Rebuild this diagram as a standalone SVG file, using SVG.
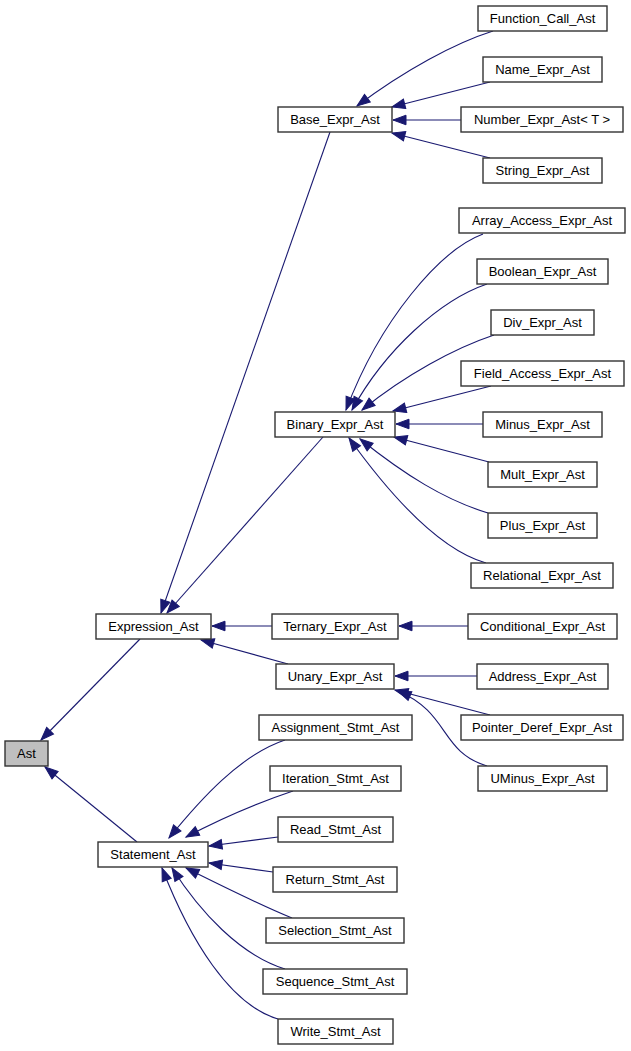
<svg xmlns="http://www.w3.org/2000/svg" width="631" height="1051" viewBox="0 0 631 1051">
<style>
.n rect{fill:#fff;stroke:#333;stroke-width:1.4}
.n text{font-family:"Liberation Sans",Arial,sans-serif;font-size:13px;text-anchor:middle;fill:#000}
#ast rect{fill:#bfbfbf}
.e path{fill:none;stroke:#191970;stroke-width:1.1;marker-end:url(#ah)}
</style>
<defs>
<marker id="ah" markerUnits="userSpaceOnUse" markerWidth="16" markerHeight="12" refX="14" refY="6" orient="auto">
<path d="M1,1.2 L14,6 L1,10.8 z" fill="#191970" stroke="#191970" stroke-width="1"/>
</marker>
</defs>
<rect width="631" height="1051" fill="#fff"/>
<g id="edges" class="e">
<path d="M140,639 L41,740"/>
<path d="M137,842 L45,767"/>
<path d="M330,132 L161,613"/>
<path d="M323,437 L167,613"/>
<path d="M272,626 L212,626"/>
<path d="M288,664 L201,640"/>
<path d="M493,31 C455,43 405,70 357,106"/>
<path d="M490,82 L392,107"/>
<path d="M461,120 L393,120"/>
<path d="M490,158 L392,133"/>
<path d="M483,234 C440,250 380,320 346,410"/>
<path d="M487,284 C440,300 385,350 352,410"/>
<path d="M494,335 C455,348 405,375 362,410"/>
<path d="M491,386 L393,411"/>
<path d="M483,424 L396,424"/>
<path d="M489,462 L394,437"/>
<path d="M488,513 C445,500 405,475 360,439"/>
<path d="M486,563 C440,550 390,495 349,438"/>
<path d="M468,626 L399,626"/>
<path d="M477,676 L395,676"/>
<path d="M490,715 L395,690"/>
<path d="M487,766 C440,752 450,713 398,691"/>
<path d="M285,740 C240,755 200,800 169,838"/>
<path d="M293,791 C260,802 222,818 186,837"/>
<path d="M278,837 L209,846"/>
<path d="M273,872 L209,863"/>
<path d="M292,918 C260,905 222,886 186,868"/>
<path d="M285,969 C240,955 200,912 172,868"/>
<path d="M278,1019 C230,1005 190,940 162,868"/>
</g>
<g id="ast" class="n"><rect x="5" y="741" width="43" height="25"/><text x="26.5" y="758">Ast</text></g>
<g id="expression_ast" class="n"><rect x="96" y="614" width="115" height="25"/><text x="153.5" y="631">Expression_Ast</text></g>
<g id="statement_ast" class="n"><rect x="98" y="842" width="110" height="25"/><text x="153" y="859">Statement_Ast</text></g>
<g id="base_expr_ast" class="n"><rect x="278" y="107" width="114" height="25"/><text x="335" y="124">Base_Expr_Ast</text></g>
<g id="function_call_ast" class="n"><rect x="478" y="6" width="129" height="25"/><text x="542.5" y="23">Function_Call_Ast</text></g>
<g id="name_expr_ast" class="n"><rect x="483" y="57" width="119" height="25"/><text x="542.5" y="74">Name_Expr_Ast</text></g>
<g id="number_expr_ast" class="n"><rect x="461" y="107" width="162" height="25"/><text x="542" y="124">Number_Expr_Ast&lt; T &gt;</text></g>
<g id="string_expr_ast" class="n"><rect x="483" y="158" width="119" height="25"/><text x="542.5" y="175">String_Expr_Ast</text></g>
<g id="array_access_expr_ast" class="n"><rect x="459" y="208" width="166" height="25"/><text x="542" y="225">Array_Access_Expr_Ast</text></g>
<g id="boolean_expr_ast" class="n"><rect x="477" y="259" width="131" height="25"/><text x="542.5" y="276">Boolean_Expr_Ast</text></g>
<g id="div_expr_ast" class="n"><rect x="491" y="310" width="103" height="25"/><text x="542.5" y="327">Div_Expr_Ast</text></g>
<g id="field_access_expr_ast" class="n"><rect x="461" y="361" width="163" height="25"/><text x="542.5" y="378">Field_Access_Expr_Ast</text></g>
<g id="binary_expr_ast" class="n"><rect x="275" y="412" width="120" height="25"/><text x="335" y="429">Binary_Expr_Ast</text></g>
<g id="minus_expr_ast" class="n"><rect x="483" y="412" width="119" height="25"/><text x="542.5" y="429">Minus_Expr_Ast</text></g>
<g id="mult_expr_ast" class="n"><rect x="488" y="462" width="109" height="25"/><text x="542.5" y="479">Mult_Expr_Ast</text></g>
<g id="plus_expr_ast" class="n"><rect x="488" y="513" width="109" height="25"/><text x="542.5" y="530">Plus_Expr_Ast</text></g>
<g id="relational_expr_ast" class="n"><rect x="471" y="563" width="142" height="25"/><text x="542" y="580">Relational_Expr_Ast</text></g>
<g id="ternary_expr_ast" class="n"><rect x="272" y="614" width="126" height="25"/><text x="335" y="631">Ternary_Expr_Ast</text></g>
<g id="conditional_expr_ast" class="n"><rect x="468" y="614" width="149" height="25"/><text x="542.5" y="631">Conditional_Expr_Ast</text></g>
<g id="unary_expr_ast" class="n"><rect x="276" y="664" width="118" height="25"/><text x="335" y="681">Unary_Expr_Ast</text></g>
<g id="address_expr_ast" class="n"><rect x="477" y="664" width="131" height="25"/><text x="542.5" y="681">Address_Expr_Ast</text></g>
<g id="assignment_stmt_ast" class="n"><rect x="259" y="715" width="153" height="25"/><text x="335.5" y="732">Assignment_Stmt_Ast</text></g>
<g id="pointer_deref_expr_ast" class="n"><rect x="461" y="715" width="162" height="25"/><text x="542" y="732">Pointer_Deref_Expr_Ast</text></g>
<g id="iteration_stmt_ast" class="n"><rect x="270" y="766" width="131" height="25"/><text x="335.5" y="783">Iteration_Stmt_Ast</text></g>
<g id="uminus_expr_ast" class="n"><rect x="478" y="766" width="129" height="25"/><text x="542.5" y="783">UMinus_Expr_Ast</text></g>
<g id="read_stmt_ast" class="n"><rect x="278" y="817" width="115" height="25"/><text x="335.5" y="834">Read_Stmt_Ast</text></g>
<g id="return_stmt_ast" class="n"><rect x="273" y="867" width="124" height="25"/><text x="335" y="884">Return_Stmt_Ast</text></g>
<g id="selection_stmt_ast" class="n"><rect x="266" y="918" width="138" height="25"/><text x="335" y="935">Selection_Stmt_Ast</text></g>
<g id="sequence_stmt_ast" class="n"><rect x="263" y="969" width="144" height="25"/><text x="335" y="986">Sequence_Stmt_Ast</text></g>
<g id="write_stmt_ast" class="n"><rect x="278" y="1019" width="115" height="25"/><text x="335.5" y="1036">Write_Stmt_Ast</text></g>
</svg>
